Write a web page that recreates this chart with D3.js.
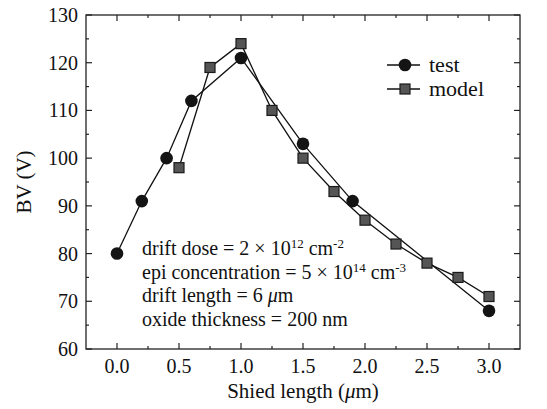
<!DOCTYPE html>
<html>
<head>
<meta charset="utf-8">
<script src="https://cdn.jsdelivr.net/npm/d3@7"></script>
</head>
<body style="margin:0">
<svg id="chart" width="547" height="409" style="font-family: 'Liberation Serif', serif"></svg>
<script>
// data
const testX  = [0, 0.2, 0.4, 0.6, 1.0, 1.5, 1.9, 3.0];
const testY  = [80, 91, 100, 112, 121, 103, 91, 68];
const modelX = [0.5, 0.75, 1.0, 1.25, 1.5, 1.75, 2.0, 2.25, 2.5, 2.75, 3.0];
const modelY = [98, 119, 124, 110, 100, 93, 87, 82, 78, 75, 71];
const xTicks = [0, 0.5, 1.0, 1.5, 2.0, 2.5, 3.0];
const yTicks = [60, 70, 80, 90, 100, 110, 120, 130];

const svg = d3.select('#chart');
const pLeft = 86, pRight = 520, pTop = 15, pBottom = 349;

const x = d3.scaleLinear().domain([-0.25, 3.25]).range([pLeft, pRight]);
const y = d3.scaleLinear().domain([60, 130]).range([pBottom, pTop]);

const test = testX.map((d, i) => ({x: d, y: testY[i]}));
const model = modelX.map((d, i) => ({x: d, y: modelY[i]}));

// frame
svg.append('rect')
    .attr('x', pLeft).attr('y', pTop)
    .attr('width', pRight - pLeft).attr('height', pBottom - pTop)
    .attr('fill', 'none').attr('stroke', '#222').attr('stroke-width', 1.3);

// ticks (inside, major + minor)
const xAll = d3.range(0, 13).map(i => i * 0.25);
const yMinor = d3.range(65, 130, 10);
const tk = svg.append('g').attr('stroke', '#222').attr('stroke-width', 1.2);
xAll.forEach((v, i) => {
    const len = i % 2 === 0 ? 6 : 3;
    tk.append('line').attr('x1', x(v)).attr('x2', x(v)).attr('y1', pBottom).attr('y2', pBottom - len);
    tk.append('line').attr('x1', x(v)).attr('x2', x(v)).attr('y1', pTop).attr('y2', pTop + len);
});
yTicks.concat(yMinor).forEach(v => {
    const len = v % 10 === 0 ? 6 : 3;
    tk.append('line').attr('x1', pLeft).attr('x2', pLeft + len).attr('y1', y(v)).attr('y2', y(v));
    tk.append('line').attr('x1', pRight).attr('x2', pRight - len).attr('y1', y(v)).attr('y2', y(v));
});

// tick labels
svg.append('g').selectAll('text').data(xTicks).join('text')
    .attr('x', d => x(d)).attr('y', pBottom + 24)
    .attr('text-anchor', 'middle').attr('font-size', 20)
    .text(d => d.toFixed(1));
svg.append('g').selectAll('text').data(yTicks).join('text')
    .attr('x', pLeft - 8).attr('y', d => y(d)).attr('dy', '0.35em')
    .attr('text-anchor', 'end').attr('font-size', 20)
    .text(d => d);

// axis titles
const xt = svg.append('text')
    .attr('x', x(1.5)).attr('y', 398)
    .attr('text-anchor', 'middle').attr('font-size', 21);
xt.append('tspan').text('Shied length (');
xt.append('tspan').attr('font-style', 'italic').text('\u03bc');
xt.append('tspan').text('m)');

svg.append('text')
    .attr('transform', `translate(31,${(pTop + pBottom) / 2}) rotate(-90)`)
    .attr('text-anchor', 'middle').attr('font-size', 21)
    .text('BV (V)');

// series
const line = d3.line().x(d => x(d.x)).y(d => y(d.y));
svg.append('path').datum(test).attr('d', line)
    .attr('fill', 'none').attr('stroke', '#111').attr('stroke-width', 1.3);
svg.append('path').datum(model).attr('d', line)
    .attr('fill', 'none').attr('stroke', '#111').attr('stroke-width', 1.3);

const sq = 10;
svg.append('g').selectAll('rect').data(model).join('rect')
    .attr('x', d => x(d.x) - sq / 2).attr('y', d => y(d.y) - sq / 2)
    .attr('width', sq).attr('height', sq)
    .attr('fill', '#555').attr('stroke', '#1a1a1a').attr('stroke-width', 1.2);
svg.append('g').selectAll('circle').data(test).join('circle')
    .attr('cx', d => x(d.x)).attr('cy', d => y(d.y)).attr('r', 6.3)
    .attr('fill', '#141414');

// legend
const lg = svg.append('g');
[['test', 65], ['model', 89]].forEach(([name, ly]) => {
    lg.append('line').attr('x1', 387).attr('x2', 420).attr('y1', ly).attr('y2', ly)
        .attr('stroke', '#111').attr('stroke-width', 1.3);
    if (name === 'test') {
        lg.append('circle').attr('cx', 405).attr('cy', ly).attr('r', 6.3).attr('fill', '#141414');
    } else {
        lg.append('rect').attr('x', 405 - sq / 2).attr('y', ly - sq / 2)
            .attr('width', sq).attr('height', sq)
            .attr('fill', '#555').attr('stroke', '#1a1a1a').attr('stroke-width', 1.2);
    }
    lg.append('text').attr('x', 429).attr('y', ly).attr('dy', '0.33em')
        .attr('font-size', 22).text(name);
});

// annotation: [text, kind] where kind is '', 'sup' or 'it'
const notes = [
    [['drift dose = 2 \u00d7 10', ''], ['12', 'sup'], [' cm', ''], ['-2', 'sup']],
    [['epi concentration = 5 \u00d7 10', ''], ['14', 'sup'], [' cm', ''], ['-3', 'sup']],
    [['drift length = 6 ', ''], ['\u03bc', 'it'], ['m', '']],
    [['oxide thickness = 200 nm', '']]
];
notes.forEach((parts, i) => {
    const t = svg.append('text').attr('x', 142).attr('y', 255 + i * 23.5)
        .attr('font-size', 20);
    let raised = false;
    parts.forEach(([s, kind]) => {
        const ts = t.append('tspan').text(s);
        if (kind === 'sup') {
            ts.attr('font-size', 13).attr('dy', -7);
            raised = true;
        } else {
            if (raised) { ts.attr('dy', 7); raised = false; }
            if (kind === 'it') ts.attr('font-style', 'italic');
        }
    });
});

svg.selectAll('text')
    .style('font-family', "'Liberation Serif', serif")
    .attr('fill', '#111');
</script>
</body>
</html>
